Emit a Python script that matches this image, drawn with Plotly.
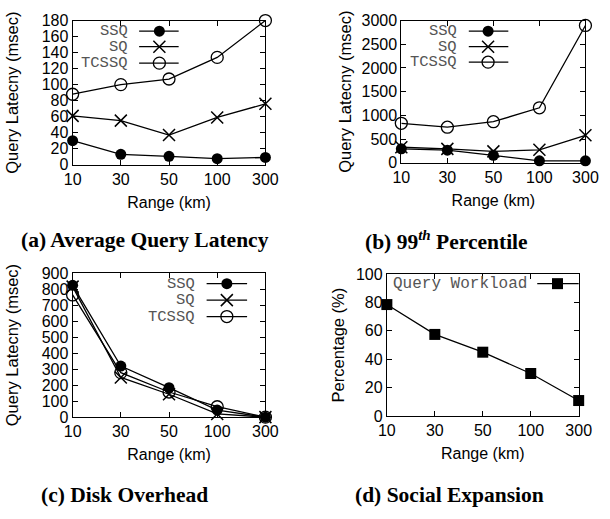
import plotly.graph_objects as go

W, H = 610, 519

ranges = ['10', '30', '50', '100', '300']

avg_ssq = [30, 13, 10.5, 7.5, 9]
avg_sq = [61, 55, 37, 59, 76]
avg_tcssq = [88, 100, 107, 134, 180]

p99_ssq = [293, 266, 157, 41, 41]
p99_sq = [327, 293, 240, 273, 580]
p99_tcssq = [832, 750, 866, 1159, 2897]

disk_ssq = [823, 319, 184, 44, 0]
disk_sq = [815, 248, 143, 20, 0]
disk_tcssq = [763, 278, 157, 65, 0]

workload = [78.5, 57.5, 45, 30, 11]

series_names = ['SSQ', 'SQ', 'TCSSQ']
captions = ['<b>(a) Average Query Latency</b>',
            '<b>(b) 99<sup><i>th</i></sup> Percentile</b>',
            '<b>(c) Disk Overhead</b>',
            '<b>(d) Social Expansion</b>']

# panel boxes in pixels: left, right, top, bottom
boxes = [(66, 266, 13, 162), (407, 598, 13, 160), (66, 266, 274, 423), (392, 591, 275, 422)]
yranges = [(0, 180, 20), (0, 3000, 500), (0, 900, 100), (0, 100, 20)]
ytitles = ['Query Latecny (msec)', 'Query Latecny (msec)', 'Query Latecny (msec)', 'Percentage (%)']
ystandoffs = [18, 5, 18, 7]

styles = {
    'SSQ': dict(symbol='circle', size=11, color='black', line=dict(width=0)),
    'SQ': dict(symbol='x-thin', size=12, color='black', line=dict(width=1.5, color='black')),
    'TCSSQ': dict(symbol='circle-open', size=12, color='black', line=dict(width=1.3, color='black')),
    'WL': dict(symbol='square', size=11, color='black', line=dict(width=0)),
}

fig = go.Figure()

panel_data = [
    [avg_ssq, avg_sq, avg_tcssq],
    [p99_ssq, p99_sq, p99_tcssq],
    [disk_ssq, disk_sq, disk_tcssq],
]

for i, data in enumerate(panel_data):
    ax = '' if i == 0 else str(i + 1)
    for name, vals in zip(series_names, data):
        fig.add_trace(go.Scatter(x=ranges, y=vals, mode='lines+markers', name=name,
                                 line=dict(color='black', width=1.3),
                                 marker=styles[name], cliponaxis=False,
                                 xaxis='x' + ax, yaxis='y' + ax, showlegend=False))

fig.add_trace(go.Scatter(x=ranges, y=workload, mode='lines+markers', name='Query Workload',
                         line=dict(color='black', width=1.3), marker=styles['WL'],
                         cliponaxis=False, xaxis='x4', yaxis='y4', showlegend=False))

axis_common = dict(showline=True, linecolor='black', linewidth=1, mirror='allticks',
                   ticks='inside', ticklen=5, tickcolor='black', tickwidth=1,
                   showgrid=False, zeroline=False,
                   tickfont=dict(family='Liberation Sans, Arial', size=16, color='black'))

layout = dict(width=W, height=H, margin=dict(l=0, r=0, t=0, b=0),
              paper_bgcolor='white', plot_bgcolor='rgba(0,0,0,0)', showlegend=False)

for i, (l, r, t, b) in enumerate(boxes):
    ax = '' if i == 0 else str(i + 1)
    lo, hi, dt = yranges[i]
    layout['xaxis' + ax] = dict(axis_common, domain=[l / W, r / W], anchor='y' + ax,
                                type='category', range=[0, 4],
                                title=dict(text='Range (km)', standoff=9,
                                           font=dict(family='Liberation Sans, Arial', size=16, color='black')))
    layout['yaxis' + ax] = dict(axis_common, domain=[1 - b / H, 1 - t / H], anchor='x' + ax,
                                range=[lo, hi], dtick=dt,
                                title=dict(text=ytitles[i], standoff=ystandoffs[i],
                                           font=dict(family='Liberation Sans, Arial', size=16.5, color='black')))

# overlay pixel axis for legend samples
layout['xaxis5'] = dict(domain=[0, 1], range=[0, W], visible=False, anchor='y5')
layout['yaxis5'] = dict(domain=[0, 1], range=[H, 0], visible=False, anchor='x5')

legend_specs = [
    # text right edge, line x0, line x1, marker x, rows y, font size
    (125, 135, 176, 156, [24, 40, 57], series_names, 15.5),
    (466, 477, 518, 497, [24, 40, 56], series_names, 15.5),
    (194, 205, 247, 226, [285, 302, 319], series_names, 15.5),
    (538, 548, 591, 569, [285], ['Query Workload'], 16),
]

annotations = []
for (tx, x0, x1, xm, ys, names, fs) in legend_specs:
    for nm, yy in zip(names, ys):
        st = styles['WL'] if nm == 'Query Workload' else styles[nm]
        fig.add_trace(go.Scatter(x=[x0, x1], y=[yy, yy], mode='lines',
                                 line=dict(color='black', width=1.3),
                                 xaxis='x5', yaxis='y5', showlegend=False, hoverinfo='skip'))
        fig.add_trace(go.Scatter(x=[xm], y=[yy], mode='markers', marker=st, cliponaxis=False,
                                 xaxis='x5', yaxis='y5', showlegend=False, hoverinfo='skip'))
        annotations.append(dict(text=nm, xref='paper', yref='paper', x=tx / W, y=1 - yy / H,
                                xanchor='right', yanchor='middle', showarrow=False, borderpad=0,
                                font=dict(family='Liberation Mono, Courier New', size=fs, color='#555555')))

caption_pos = [(141, 240), (454, 240), (120, 504), (457, 504)]
for cap, (cx, cy) in zip(captions, caption_pos):
    annotations.append(dict(text=cap, xref='paper', yref='paper', x=cx / W, y=1 - cy / H,
                            xanchor='center', yanchor='middle', showarrow=False,
                            font=dict(family='Liberation Serif, Times New Roman', size=21.5, color='black')))

layout['annotations'] = annotations
fig.update_layout(**layout)

fig.write_html('out.html')
